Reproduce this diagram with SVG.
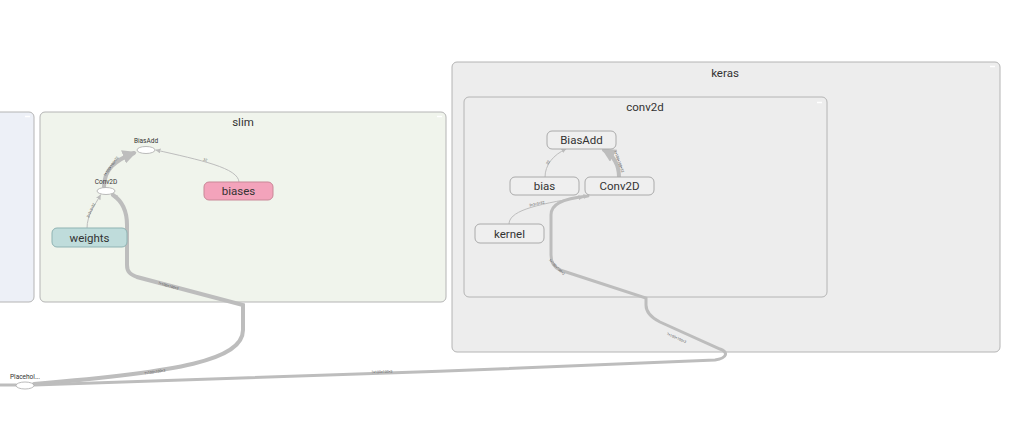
<svg xmlns="http://www.w3.org/2000/svg" width="1024" height="436" viewBox="0 0 1024 436">
<style>
text{font-family:Roboto,"Liberation Sans",sans-serif;fill:#333}
.title{font-size:11.5px;text-anchor:middle}
.nl{font-size:11.5px;text-anchor:middle}
.op{font-size:6.5px;text-anchor:middle}
.el{font-size:3.5px;fill:#555;text-anchor:middle}
.grp{stroke:#b4b4b4;stroke-width:1}
.knode{fill:#efefef;stroke:#aaa;stroke-width:1}
.e{fill:none;stroke:#bdbdbd;stroke-linecap:round}
.thin{stroke-width:1}
.thick{stroke-width:4}
.mid{stroke-width:3}
.dash{stroke:#fff;stroke-width:1.5}
</style>
<defs>
<marker id="sm" viewBox="0 0 10 10" refX="9" refY="5" markerWidth="5" markerHeight="5" orient="auto" markerUnits="userSpaceOnUse"><path d="M0,0 L10,5 L0,10 z" fill="#bdbdbd"/></marker>
<marker id="big" viewBox="0 0 10 10" refX="8" refY="5" markerWidth="3.5" markerHeight="3.5" orient="auto"><path d="M0,0 L10,5 L0,10 z" fill="#bdbdbd"/></marker>
</defs>

<g id="left-group"><rect class="grp" x="-10" y="112" width="44" height="190" rx="5" fill="#edf0f7"/><line class="dash" x1="25" y1="116.5" x2="30" y2="116.5"/></g>

<g id="slim"><rect class="grp" x="40" y="112" width="406" height="190" rx="5" fill="#f0f4ec"/><text class="title" x="243" y="126">slim</text><line class="dash" x1="437" y1="116.5" x2="442" y2="116.5"/></g>

<g id="keras"><rect class="grp" x="452" y="62" width="548" height="290" rx="5" fill="#ededed"/><text class="title" x="725" y="77">keras</text><line class="dash" x1="990" y1="66.5" x2="995" y2="66.5"/></g>

<g id="keras-conv2d"><rect class="grp" x="464" y="97" width="363" height="200" rx="5" fill="#ededed"/><text class="title" x="645" y="111">conv2d</text><line class="dash" x1="817" y1="102.5" x2="822" y2="102.5"/></g>

<g id="connectors">
<path class="e thin" d="M87 228 C87 215 95 205 100.5 195" marker-end="url(#sm)"/>
<text class="el" transform="translate(92 211) rotate(-65)">3×3×3×32</text>
<path class="e thick" d="M104 187 C104 170 115 160 134 153" marker-end="url(#big)"/>
<text class="el" transform="translate(112 167) rotate(-55)">?×100×100×32</text>
<path class="e thin" d="M239 182 C239 168 200 160 156 150" marker-end="url(#sm)"/>
<text class="el" transform="translate(205 161) rotate(15)">32</text>
<path class="e thick" d="M34 384 C180 372 243 360 243 330 L243 305 L137 277 C130 274 127 272 127 265 L127 225 C127 210 122 201 113 195" marker-end="url(#sm)"/>
<text class="el" transform="translate(168 287) rotate(16)">?×100×100×3</text>
<text class="el" transform="translate(155 373) rotate(-8)">?×100×100×3</text>
<line class="e mid" x1="16" y1="385" x2="0" y2="385"/>
<path class="e mid" d="M34 385 C200 380 500 370 715 360 C728 358 728 352 720 349 L660 322 C650 317 646 312 646 305 L646 298 L560 270 C553 267 551 262 551 255 L551 215 C551 205 560 199 588 196" marker-end="url(#sm)"/>
<text class="el" transform="translate(382 373) rotate(-2)">?×100×100×3</text>
<text class="el" transform="translate(676 339) rotate(24)">?×100×100×3</text>
<text class="el" transform="translate(556 268) rotate(45)">?×100×100×3</text>
<path class="e thin" d="M545 177 C545 165 553 155 566 149" marker-end="url(#sm)"/>
<text class="el" transform="translate(549 163) rotate(-60)">32</text>
<path class="e thick" d="M619 177 C619 165 614 156 604 150" marker-end="url(#big)"/>
<text class="el" transform="translate(618 162) rotate(70)">?×100×100×32</text>
<path class="e thin" d="M509 224 C509 212 530 205 583 197" marker-end="url(#sm)"/>
<text class="el" transform="translate(537 205) rotate(-12)">3×3×3×32</text>
</g>

<g id="slim-BiasAdd"><ellipse cx="146" cy="150" rx="9" ry="3.5" fill="#fff" stroke="#aaa" stroke-width="0.8"/><text class="op" x="146" y="143">BiasAdd</text></g>
<g id="slim-Conv2D"><ellipse cx="106" cy="191" rx="9" ry="3.5" fill="#fff" stroke="#aaa" stroke-width="0.8"/><text class="op" x="106" y="184">Conv2D</text></g>
<g id="slim-weights"><rect x="52" y="228" width="75" height="19" rx="5" fill="#bfdcdb" stroke="#8fb3b3"/><text class="nl" x="89.5" y="241.5">weights</text></g>
<g id="slim-biases"><rect x="204" y="182" width="69" height="18" rx="5" fill="#f3a3bb" stroke="#c98797"/><text class="nl" x="238.5" y="195">biases</text></g>

<g id="keras-BiasAdd"><rect class="knode" x="547" y="131" width="69" height="18" rx="5"/><text class="nl" x="581.5" y="144">BiasAdd</text></g>
<g id="keras-bias"><rect class="knode" x="510" y="177" width="69" height="18" rx="5"/><text class="nl" x="544.5" y="190">bias</text></g>
<g id="keras-Conv2D"><rect class="knode" x="585" y="177" width="69" height="18" rx="5"/><text class="nl" x="619.5" y="190">Conv2D</text></g>
<g id="keras-kernel"><rect class="knode" x="475" y="224" width="69" height="19" rx="5"/><text class="nl" x="509.5" y="237.5">kernel</text></g>

<g id="Placeholder"><ellipse cx="25" cy="385.5" rx="9" ry="3.5" fill="#fff" stroke="#aaa" stroke-width="0.8"/><text class="op" x="25" y="379">Placehol...</text></g>
</svg>
